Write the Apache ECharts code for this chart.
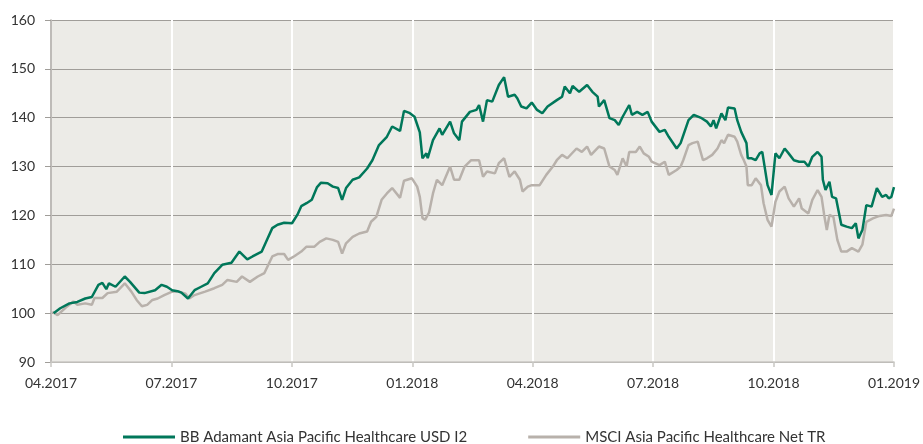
<!DOCTYPE html>
<html>
<head>
<meta charset="utf-8">
<script src="https://cdn.jsdelivr.net/npm/echarts@6/dist/echarts.min.js"></script>
<style>
	html, body { margin: 0; padding: 0; background: #fff; }
	#chart { width: 923px; height: 444px; }
</style>
</head>
<body>
<div id="chart"></div>
<script>
// x: Tage seit 01.04.2017
var tickLabels = ['04.2017', '07.2017', '10.2017', '01.2018', '04.2018', '07.2018', '10.2018', '01.2019'];
var totalDays = 640;

var fundName = 'BB Adamant Asia Pacific Healthcare USD I2';
var fundDays = [2,7,14,20,26,31,36,39,42,44,49,56,60,67,71,79,84,88,92,96,99,104,109,114,119,124,130,137,143,149,
	153,160,164,168,172,177,183,187,190,194,198,202,205,210,214,218,221,224,229,234,240,244,249,255,259,265,268,272,276,280,
	282,285,286,290,295,297,303,306,310,312,318,323,325,328,331,335,340,344,347,352,354,357,361,365,369,373,377,384,388,390,
	394,396,401,407,411,415,416,420,424,428,431,434,439,441,445,449,453,456,462,466,469,475,478,484,488,494,498,501,503,505,
	509,512,514,519,521,524,528,529,532,535,538,540,544,547,548,550,553,557,560,564,568,572,575,578,582,585,586,588,591,593,
	596,600,604,608,611,613,616,619,623,627,631,634,636,638,640];
var fundValues = [100,101,102,102.3,103,103.3,105.8,106.2,104.9,106.1,105.4,107.5,106.4,104.2,104.1,104.7,105.8,105.4,104.7,104.5,
	104.2,103.0,104.7,105.4,106.1,108.2,109.9,110.3,112.6,111,111.6,112.6,115.0,117.4,118.1,118.5,118.4,120.1,121.9,122.5,
	123.2,125.8,126.7,126.6,125.9,125.6,123.2,125.6,127.3,127.8,129.6,131.3,134.4,136.1,138.2,137.3,141.4,141,140.2,137,
	131.7,132.7,131.7,135.4,137.8,136.5,139.2,136.8,135.4,139.2,141.2,141.6,142.6,139.2,143.6,143.3,146.7,148.3,144.3,144.7,
	144.0,142.3,141.9,143.1,141.6,140.9,142.3,143.6,144.3,146.4,145,146.5,145.3,146.7,145.3,144.3,142.3,143.6,139.9,139.5,
	138.5,140.2,142.6,140.6,141.2,140.6,141.2,139.2,137.1,137.5,136.1,133.7,134.8,139.5,140.6,139.9,139.2,138.2,139.5,137.8,
	140.9,139.5,142.1,141.9,139.5,137.1,134.8,131.7,131.7,131.3,132.7,133.0,126.2,124.2,124.5,132.7,131.7,133.7,132.7,131.3,
	131.0,131.0,130,132,133.0,132,127.3,125.2,126.9,123.8,123.5,118.1,117.7,117.4,118.4,115.3,117.0,122.1,121.8,125.6,
	123.8,124.2,123.5,123.8,125.8];

var indexName = 'MSCI Asia Pacific Healthcare Net TR';
var indexDays = [1,5,11,17,20,26,31,33,39,43,50,56,61,65,69,73,77,81,86,92,
	96,102,105,109,117,124,130,134,141,145,151,157,162,168,172,177,180,185,190,194,
	200,204,209,214,218,221,224,229,234,240,243,247,251,255,259,265,268,274,278,280,
	282,284,287,290,293,297,303,306,310,314,319,325,328,331,337,340,344,348,352,356,
	358,362,365,371,376,381,384,388,392,399,403,407,410,416,420,424,428,430,434,437,
	439,444,447,450,454,456,462,466,469,475,478,480,484,487,491,495,498,502,506,509,
	511,514,519,521,524,526,528,529,532,535,539,541,544,547,550,553,557,560,564,568,
	570,575,578,582,585,587,589,591,594,597,600,604,608,613,616,619,624,629,634,638,640];
var indexValues = [100.3,99.6,101.1,102.4,101.7,102,101.7,103.1,103.1,104.1,
	104.4,106.1,104.4,102.7,101.4,101.7,102.7,103.0,103.7,104.4,
	104.5,104.0,103.0,103.7,104.4,105.1,105.8,106.8,106.4,107.5,
	106.4,107.5,108.2,111.6,112.1,112.1,110.9,111.7,112.6,113.6,
	113.6,114.6,115.3,115.0,114.6,112.2,114.3,115.6,116.3,116.7,
	118.7,119.7,123.2,124.5,125.6,123.6,127.1,127.6,125.9,123.8,
	119.5,119.1,120.6,124.5,127.3,126.2,130,127.3,127.3,130,
	131.3,131.3,127.9,129,128.6,130.7,131.7,127.9,129,127.3,
	124.9,125.9,126.2,126.2,128.3,130,131.3,132.4,131.7,133.7,
	133.0,134.1,132.4,134.1,133.7,130,129.3,128.3,131.7,130,
	133.0,133.0,134.1,132.7,132,131,130.3,131,128.3,129.3,
	130,131.3,134.4,134.8,135.1,131.3,131.7,132.4,133.7,135.4,
	134.8,136.5,136.1,135.1,132.4,131.3,130,126.2,126.2,127.6,
	126.2,122.5,119.1,117.7,122.8,124.9,125.9,123.5,121.8,123.5,
	121.4,120.4,123.2,125.2,123.8,120.1,117.0,120.1,119.7,115,
	112.6,112.6,113.3,112.6,114,118.7,119.4,119.9,120.1,119.9,121.4];

function pairs(xs, ys) {
	var out = [];
	for (var i = 0; i < xs.length; i++) {
		out.push([xs[i], ys[i]]);
	}
	return out;
}

var step = totalDays / (tickLabels.length - 1);
var font = 'Lato, "Open Sans", sans-serif';

var option = {
	animation: false,
	textStyle: { fontFamily: font },
	grid: {
		left: 51,
		right: 28,
		top: 20,
		bottom: 82,
		show: true,
		backgroundColor: '#ecebe7',
		borderWidth: 0
	},
	legend: {
		left: 123,
		top: 429,
		padding: 0,
		icon: 'rect',
		itemWidth: 52,
		itemHeight: 3,
		itemGap: 61,
		textStyle: { fontFamily: font, fontSize: 15, lineHeight: 16, color: '#333' },
		data: [fundName, indexName]
	},
	xAxis: {
		type: 'value',
		min: 0,
		max: totalDays,
		interval: step,
		axisLine: { show: true, lineStyle: { color: '#c9c7c3', width: 1.5 } },
		axisTick: { show: true, length: 5, lineStyle: { color: '#c9c7c3', width: 1.5 } },
		axisLabel: {
			margin: 14,
			fontSize: 14,
			color: '#333',
			fontFamily: font,
			formatter: function(v) {
				return tickLabels[Math.round(v / step)] || '';
			}
		},
		splitLine: { show: true, lineStyle: { color: '#ffffff', width: 2 } }
	},
	yAxis: {
		type: 'value',
		min: 90,
		max: 160,
		interval: 10,
		axisLine: { show: true, lineStyle: { color: '#a8a5a1', width: 1.5 } },
		axisTick: { show: true, length: 6, lineStyle: { color: '#a09d99' } },
		axisLabel: { margin: 16, fontSize: 14, color: '#333', fontFamily: font },
		splitLine: { show: true, lineStyle: { color: '#a09d99', width: 1.2 } }
	},
	series: [{
		name: fundName,
		type: 'line',
		showSymbol: false,
		z: 3,
		data: pairs(fundDays, fundValues),
		itemStyle: { color: '#00775a' },
		lineStyle: { color: '#00775a', width: 2.5 }
	}, {
		name: indexName,
		type: 'line',
		showSymbol: false,
		z: 2,
		data: pairs(indexDays, indexValues),
		itemStyle: { color: '#b8b1ab' },
		lineStyle: { color: '#b8b1ab', width: 2.5 }
	}]
};

var myChart = echarts.init(document.getElementById('chart'));
myChart.setOption(option);
</script>
</body>
</html>
